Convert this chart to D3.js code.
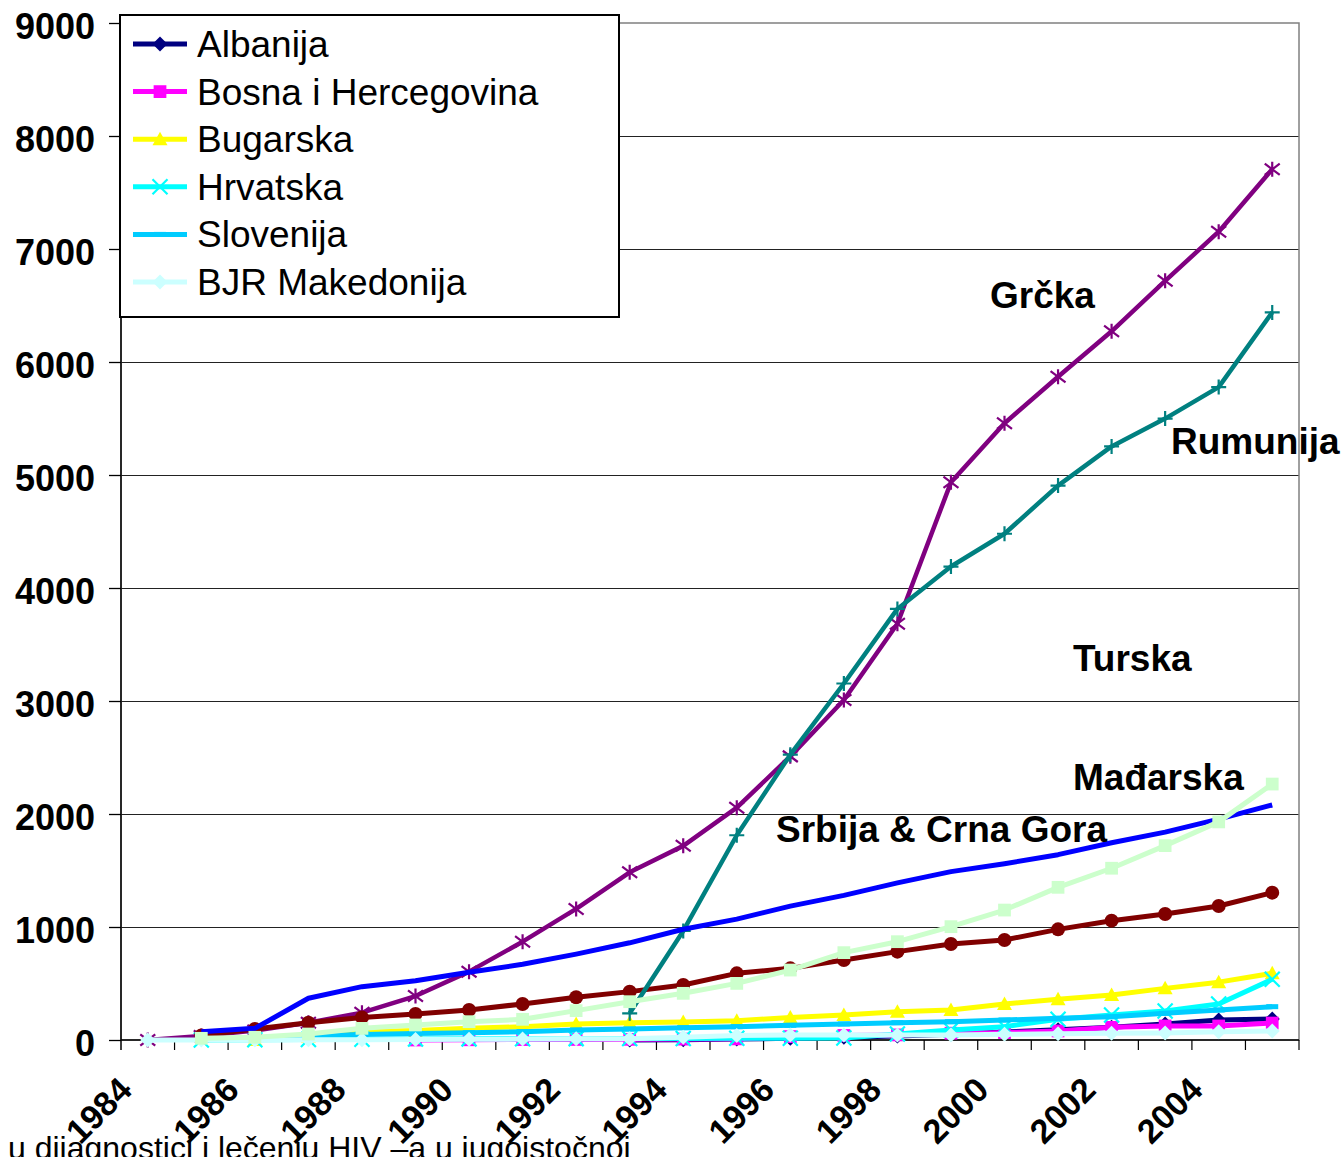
<!DOCTYPE html>
<html>
<head>
<meta charset="utf-8">
<script src="https://cdn.jsdelivr.net/npm/d3@7"></script>
<style>
  html, body { margin: 0; padding: 0; background: #fff; }
  svg { display: block; font-family: "Liberation Sans", Arial, sans-serif; }
</style>
</head>
<body>
<div class="chart"></div>
<script>
// years on the x axis, one value per year in every series
const years = [1984, 1985, 1986, 1987, 1988, 1989, 1990, 1991, 1992, 1993, 1994,
  1995, 1996, 1997, 1998, 1999, 2000, 2001, 2002, 2003, 2004, 2005];
const yearLabels = [1984, 1986, 1988, 1990, 1992, 1994, 1996, 1998, 2000, 2002, 2004];
const yTicks = [0, 1000, 2000, 3000, 4000, 5000, 6000, 7000, 8000, 9000];

const albanija = [null, null, null, null, null, null, null, null, null, 0, 3, 8, 15, 25, 35, 50, 70, 90, 112, 142, 177, 186];
const bosna = [null, null, null, null, null, 0, 2, 4, 5, 6, 8, 10, 30, 40, 45, 60, 65, 80, 112, 124, 124, 150];
const bugarska = [null, null, 0, 30, 74, 83, 103, 118, 142, 153, 160, 170, 200, 221, 251, 265, 319, 360, 398, 457, 512, 590];
const hrvatska = [null, 0, 2, 4, 6, 8, 10, 11, 12, 13, 14, 15, 15, 18, 53, 88, 118, 183, 221, 257, 319, 537];
const grcka = [0, 35, 83, 153, 242, 389, 605, 870, 1160, 1484, 1718, 2056, 2510, 3009, 3683, 4935, 5458, 5869, 6272, 6718, 7153, 7705];
const madjarska = [null, 40, 97, 153, 200, 230, 265, 319, 378, 428, 487, 590, 634, 708, 782, 850, 885, 979, 1056, 1115, 1186, 1304];
const rumunija = [null, null, null, null, null, null, null, null, null, 236, 965, 1812, 2525, 3155, 3815, 4190, 4480, 4906, 5253, 5499, 5778, 6439];
const srbija = [null, 74, 103, 369, 472, 525, 599, 670, 760, 860, 980, 1070, 1185, 1280, 1390, 1490, 1560, 1640, 1745, 1840, 1955, 2080];
const slovenija = [null, 5, 15, 40, 48, 58, 65, 74, 88, 97, 109, 118, 130, 142, 153, 162, 177, 192, 206, 236, 265, 295];
const makedonija = [0, 0, 0, 2, 3, 5, 6, 8, 10, 12, 25, 40, 44, 44, 45, 45, 50, 55, 59, 62, 74, 80];
const turska = [null, 15, 24, 53, 103, 133, 162, 183, 260, 339, 413, 501, 619, 773, 870, 1003, 1150, 1351, 1520, 1720, 1930, 2265];

const series = [
  { name: 'Albanija', values: albanija, color: '#000080', marker: 'diamond', legend: true },
  { name: 'Bosna i Hercegovina', values: bosna, color: '#FF00FF', marker: 'square', legend: true },
  { name: 'Bugarska', values: bugarska, color: '#FFFF00', marker: 'triangle', legend: true },
  { name: 'Hrvatska', values: hrvatska, color: '#00FFFF', marker: 'x', legend: true },
  { name: 'Grčka', values: grcka, color: '#800080', marker: 'star', legend: false },
  { name: 'Mađarska', values: madjarska, color: '#800000', marker: 'circle', legend: false },
  { name: 'Rumunija', values: rumunija, color: '#008080', marker: 'plus', legend: false },
  { name: 'Srbija & Crna Gora', values: srbija, color: '#0000FF', marker: 'none', legend: false },
  { name: 'Slovenija', values: slovenija, color: '#00CCFF', marker: 'dash', legend: true },
  { name: 'BJR Makedonija', values: makedonija, color: '#CCFFFF', marker: 'diamond', legend: true },
  { name: 'Turska', values: turska, color: '#CCFFCC', marker: 'square', legend: false }
];

const labels = [
  { text: 'Grčka', x: 990, y: 308 },
  { text: 'Rumunija', x: 1171, y: 454 },
  { text: 'Turska', x: 1073, y: 671 },
  { text: 'Mađarska', x: 1073, y: 790 },
  { text: 'Srbija & Crna Gora', x: 776, y: 842 }
];

const w = 1342;
const h = 1157;
const plot = { left: 121, right: 1299, top: 23, bottom: 1040 };

const svg = d3.select('.chart')
  .append('svg')
  .attr('width', w)
  .attr('height', h);

svg.append('rect').attr('width', w).attr('height', h).attr('fill', '#fff');

const xScale = d3.scaleBand()
  .domain(years)
  .range([plot.left, plot.right])
  .padding(0);
const yScale = d3.scaleLinear()
  .domain([0, 9000])
  .range([plot.bottom, plot.top]);
const cx = (yr) => xScale(yr) + xScale.bandwidth() / 2;

// gridlines
svg.append('g')
  .selectAll('line')
  .data(yTicks.filter((d) => d > 0 && d < 9000))
  .enter()
  .append('line')
  .attr('x1', plot.left)
  .attr('x2', plot.right)
  .attr('y1', (d) => Math.round(yScale(d)) + 0.5)
  .attr('y2', (d) => Math.round(yScale(d)) + 0.5)
  .attr('stroke', '#222')
  .attr('stroke-width', 1);

// plot area border
svg.append('rect')
  .attr('x', plot.left)
  .attr('y', plot.top)
  .attr('width', plot.right - plot.left)
  .attr('height', plot.bottom - plot.top)
  .attr('fill', 'none')
  .attr('stroke', '#808080')
  .attr('stroke-width', 1.5);

// y axis
const yAxis = svg.append('g')
  .attr('transform', `translate(${plot.left}, 0)`)
  .call(d3.axisLeft(yScale).tickValues(yTicks).tickFormat(d3.format('d'))
    .tickSize(12).tickSizeOuter(0).tickPadding(14));
yAxis.select('.domain').remove();
yAxis.selectAll('line').attr('stroke', '#000').attr('stroke-width', 1.3);
yAxis.selectAll('text')
  .attr('font-family', '"Liberation Sans", Arial, sans-serif')
  .attr('font-size', 36)
  .attr('font-weight', 'bold')
  .attr('fill', '#000')
  .attr('dy', '0.42em');
svg.append('line')
  .attr('x1', plot.left).attr('x2', plot.left)
  .attr('y1', plot.top).attr('y2', plot.bottom + 10)
  .attr('stroke', '#000').attr('stroke-width', 1.5);

// x axis line and category boundary ticks
svg.append('line')
  .attr('x1', plot.left).attr('x2', plot.right)
  .attr('y1', plot.bottom).attr('y2', plot.bottom)
  .attr('stroke', '#000').attr('stroke-width', 1.5);
svg.append('g')
  .selectAll('line')
  .data(years.slice(1).map((d) => xScale(d)).concat([plot.right]))
  .enter()
  .append('line')
  .attr('x1', (d) => d).attr('x2', (d) => d)
  .attr('y1', plot.bottom).attr('y2', plot.bottom + 10)
  .attr('stroke', '#000').attr('stroke-width', 1.2);

// x labels
const xAxis = svg.append('g')
  .attr('transform', `translate(0, ${plot.bottom})`)
  .call(d3.axisBottom(xScale).tickValues(yearLabels).tickSize(0));
xAxis.select('.domain').remove();
xAxis.selectAll('text')
  .attr('font-family', '"Liberation Sans", Arial, sans-serif')
  .attr('font-size', 34)
  .attr('font-weight', 'bold')
  .attr('fill', '#000')
  .attr('text-anchor', 'end')
  .attr('y', 0)
  .attr('dy', 0)
  .attr('transform', 'translate(-14, 52) rotate(-45)');

// marker shapes
function markerPath(type, s) {
  const r = s / 2;
  switch (type) {
    case 'diamond': return `M0,${-r}L${r},0L0,${r}L${-r},0Z`;
    case 'square': return `M${-r * 0.85},${-r * 0.85}h${1.7 * r}v${1.7 * r}h${-1.7 * r}Z`;
    case 'triangle': return `M0,${-r}L${r},${r * 0.8}L${-r},${r * 0.8}Z`;
    case 'x': return `M${-r},${-r}L${r},${r}M${-r},${r}L${r},${-r}`;
    case 'star': return `M${-r},${-r * 0.75}L${r},${r * 0.75}M${-r},${r * 0.75}L${r},${-r * 0.75}M0,${-r}L0,${r}`;
    case 'plus': return `M${-r},0L${r},0M0,${-r}L0,${r}`;
    case 'dash': return `M${-r},0L${r},0`;
    default: return '';
  }
}
const filledMarkers = ['diamond', 'square', 'triangle'];

function drawMarker(g, type, color, x, y) {
  if (type === 'none') return;
  if (type === 'circle') {
    g.append('circle').attr('cx', x).attr('cy', y).attr('r', 7).attr('fill', color);
    return;
  }
  const filled = filledMarkers.includes(type);
  g.append('path')
    .attr('transform', `translate(${x}, ${y})`)
    .attr('d', markerPath(type, type === 'dash' ? 12 : 15))
    .attr('fill', filled ? color : 'none')
    .attr('stroke', color)
    .attr('stroke-width', filled ? 0 : (type === 'dash' ? 5 : 2.2));
}

const line = d3.line()
  .defined((d) => d.v !== null)
  .x((d) => cx(d.year))
  .y((d) => yScale(d.v));

series.forEach((s) => {
  const pts = years.map((yr, i) => ({ year: yr, v: s.values[i] }));
  const g = svg.append('g').attr('class', 'series');
  g.append('path')
    .datum(pts)
    .attr('d', line)
    .attr('fill', 'none')
    .attr('stroke', s.color)
    .attr('stroke-width', (s.marker === 'star' || s.marker === 'plus') ? 4.5 : 5)
    .attr('stroke-linejoin', 'round');
  pts.filter((d) => d.v !== null).forEach((d) => {
    drawMarker(g, s.marker, s.color, cx(d.year), yScale(d.v));
  });
});

// annotations
svg.append('g')
  .selectAll('text')
  .data(labels)
  .enter()
  .append('text')
  .attr('x', (d) => d.x)
  .attr('y', (d) => d.y)
  .attr('font-size', 37)
  .attr('font-weight', 'bold')
  .attr('fill', '#000')
  .text((d) => d.text);

// legend
const legendItems = series.filter((s) => s.legend);
const legendOrder = ['Albanija', 'Bosna i Hercegovina', 'Bugarska', 'Hrvatska', 'Slovenija', 'BJR Makedonija'];
legendItems.sort((a, b) => legendOrder.indexOf(a.name) - legendOrder.indexOf(b.name));

const legend = svg.append('g').attr('class', 'legend');
legend.append('rect')
  .attr('x', 120)
  .attr('y', 15)
  .attr('width', 499)
  .attr('height', 302)
  .attr('fill', '#fff')
  .attr('stroke', '#000')
  .attr('stroke-width', 2);

legendItems.forEach((s, i) => {
  const ly = 44 + i * 47.6;
  legend.append('line')
    .attr('x1', 133).attr('x2', 187)
    .attr('y1', ly).attr('y2', ly)
    .attr('stroke', s.color)
    .attr('stroke-width', 5);
  drawMarker(legend, s.marker, s.color, 160, ly);
  legend.append('text')
    .attr('x', 197)
    .attr('y', ly + 13)
    .attr('font-size', 37)
    .attr('fill', '#000')
    .text(s.name);
});

// footer text, cut off at the bottom edge as in the source
svg.append('text')
  .attr('x', 8)
  .attr('y', 1159)
  .attr('font-size', 32)
  .attr('fill', '#000')
  .text('u dijagnostici i lečenju HIV –a u jugoistočnoj');
</script>
</body>
</html>
